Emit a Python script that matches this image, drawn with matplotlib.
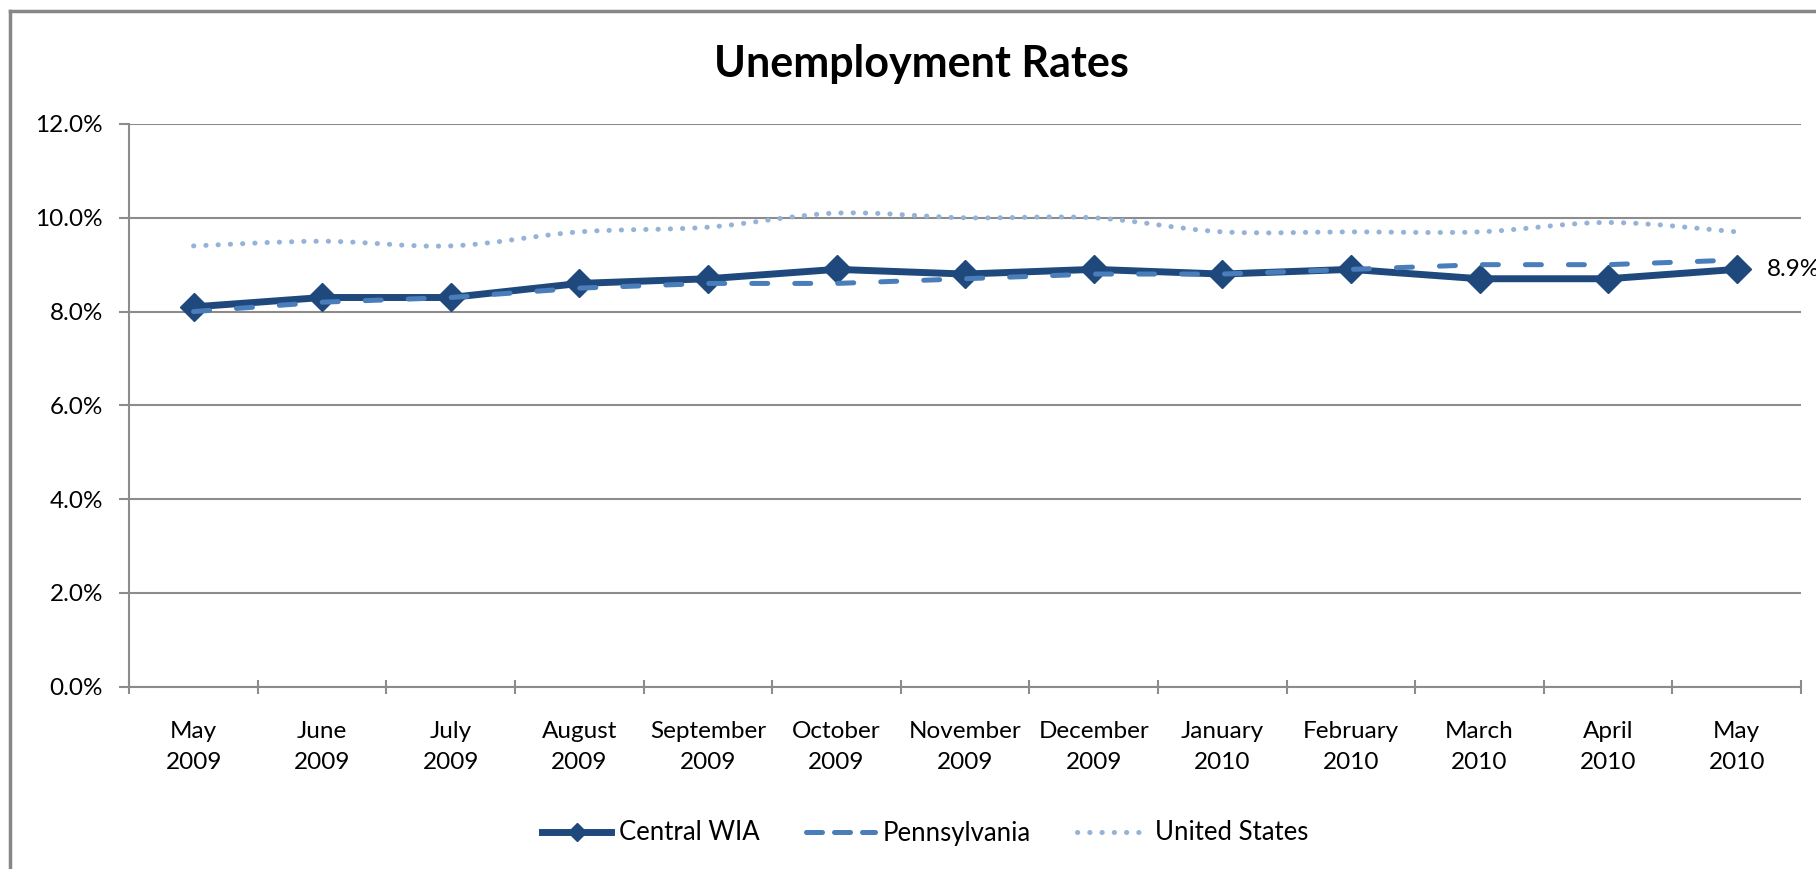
import matplotlib
matplotlib.use('Agg')
import matplotlib.pyplot as plt
import numpy as np
from matplotlib.path import Path
from matplotlib.patches import PathPatch
from matplotlib.lines import Line2D

plt.rcParams['font.family'] = ['Lato', 'DejaVu Sans']

# ---------------- data ----------------
months = ['May\n2009', 'June\n2009', 'July\n2009', 'August\n2009', 'September\n2009',
          'October\n2009', 'November\n2009', 'December\n2009', 'January\n2010',
          'February\n2010', 'March\n2010', 'April\n2010', 'May\n2010']
central_wia = [8.1, 8.3, 8.3, 8.6, 8.7, 8.9, 8.8, 8.9, 8.8, 8.9, 8.7, 8.7, 8.9]
pennsylvania = [8.0, 8.2, 8.3, 8.5, 8.6, 8.6, 8.7, 8.8, 8.8, 8.9, 9.0, 9.0, 9.1]
united_states = [9.4, 9.5, 9.4, 9.7, 9.8, 10.1, 10.0, 10.0, 9.7, 9.7, 9.7, 9.9, 9.7]
y_ticks = [0, 2, 4, 6, 8, 10, 12]
series_names = ['Central WIA', 'Pennsylvania', 'United States']
last_label = '8.9%'

# ---------------- style ----------------
W, H = 1816, 869
C_WIA = '#1F497D'
C_PA = '#4A7EBB'
C_US = '#95B3D7'
GRID = '#8C8C8C'
FS = 17.5

fig = plt.figure(figsize=(W / 100, H / 100), dpi=100)
ax = fig.add_axes([129.3 / W, 1 - 686.7 / H, (1801 - 129.3) / W, (686.7 - 124) / H])

x = np.arange(len(months))

# grid
ax.set_axisbelow(True)
ax.yaxis.grid(True, color=GRID, linewidth=1.5)

# Central WIA
ax.plot(x, central_wia, color=C_WIA, lw=5, marker='D', ms=14, mec=C_WIA, mew=1,
        solid_joinstyle='miter', zorder=3)
# Pennsylvania
ax.plot(x, pennsylvania, color=C_PA, lw=3.6, linestyle=(0, (3.2, 5.4)),
        dash_capstyle='round', zorder=4)


# United States (smoothed line)
def smooth_path(xs, ys):
    pts = np.column_stack([xs, ys]).astype(float)
    n = len(pts)
    verts = [pts[0]]
    codes = [Path.MOVETO]
    for i in range(n - 1):
        p0 = pts[i - 1] if i > 0 else pts[i]
        p1 = pts[i]
        p2 = pts[i + 1]
        p3 = pts[i + 2] if i + 2 < n else pts[i + 1]
        c1 = p1 + (p2 - p0) / 6.0
        c2 = p2 - (p3 - p1) / 6.0
        verts += [c1, c2, p2]
        codes += [Path.CURVE4] * 3
    return Path(verts, codes)


us_patch = PathPatch(smooth_path(x, united_states), fill=False, edgecolor=C_US, lw=3.6,
                     linestyle=(0, (0.05, 2.4)), capstyle='round', zorder=5)
ax.add_patch(us_patch)

# data label
ax.annotate(last_label, xy=(x[-1], central_wia[-1]), xytext=(30, 0),
            textcoords='offset pixels', va='center', ha='left', fontsize=FS,
            color='black', annotation_clip=False)

# axes
ax.set_xlim(-0.5, len(months) - 0.5)
ax.set_ylim(y_ticks[0], y_ticks[-1])
ax.set_yticks(y_ticks)
ax.set_yticklabels([f'{v:.1f}%' for v in y_ticks])
ax.set_xticks(x)
ax.set_xticklabels(months)
ax.set_xticks(np.arange(-0.5, len(months)), minor=True)

ax.tick_params(axis='x', which='major', length=0, pad=25, labelsize=FS)
ax.tick_params(axis='x', which='minor', direction='inout', length=10, width=1.5, color=GRID)
ax.tick_params(axis='y', which='major', direction='out', length=7, width=1.5, color=GRID,
               pad=12, labelsize=FS)
for t in ax.get_xticklabels():
    t.set_linespacing(1.55)

for s in ['top', 'right']:
    ax.spines[s].set_visible(False)
for s in ['left', 'bottom']:
    ax.spines[s].set_color(GRID)
    ax.spines[s].set_linewidth(1.5)

# title
fig.text(921 / W, 1 - 77 / H, 'Unemployment Rates', ha='center', va='baseline',
         fontsize=31, fontweight='bold', color='black')

# legend
h_wia = Line2D([], [], color=C_WIA, lw=5, marker='D', ms=9, mec=C_WIA)
h_pa = Line2D([], [], color=C_PA, lw=3.6, linestyle=(0, (3.2, 2.4)), dash_capstyle='round')
h_us = Line2D([], [], color=C_US, lw=3.6, linestyle=(0, (0.05, 2.4)), dash_capstyle='round')
fig.legend([h_wia, h_pa, h_us], series_names, loc='center', ncol=3,
           bbox_to_anchor=(925 / W, 1 - 833 / H), frameon=False, fontsize=18.5,
           handlelength=2.7, handletextpad=0.3, columnspacing=1.8)

# outer chart frame (cut at right and bottom)
fig.add_artist(Line2D([9.5 / W, 9.5 / W], [0, 1 - 11 / H], transform=fig.transFigure,
                      color='#878787', lw=2.5, solid_capstyle='projecting'))
fig.add_artist(Line2D([9.5 / W, 1], [1 - 11 / H, 1 - 11 / H], transform=fig.transFigure,
                      color='#878787', lw=2.5, solid_capstyle='projecting'))

fig.savefig('out.png', dpi=100, facecolor='white')
